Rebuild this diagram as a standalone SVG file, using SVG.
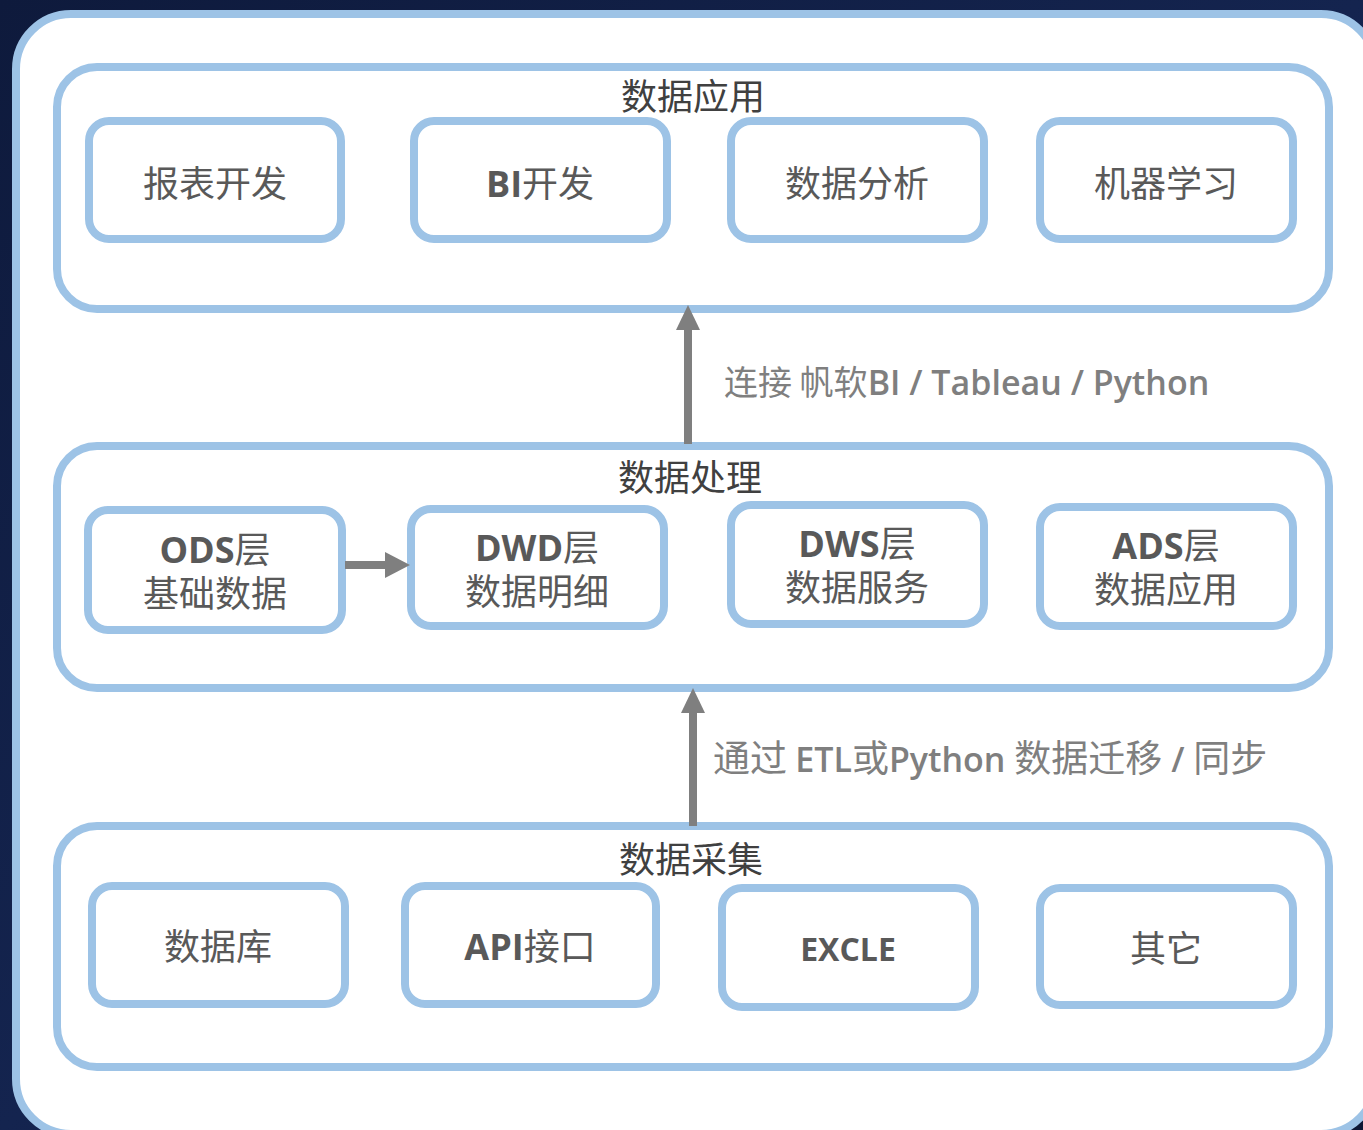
<svg xmlns="http://www.w3.org/2000/svg" width="1363" height="1130" viewBox="0 0 1363 1130">
<defs>
<linearGradient id="bg" x1="0" y1="0" x2="1" y2="1">
<stop offset="0" stop-color="#0e1a3c"/>
<stop offset="0.5" stop-color="#14244f"/>
<stop offset="1" stop-color="#0c1735"/>
</linearGradient>
<style>
.frame{fill:#ffffff;stroke:#9dc3e6;stroke-width:8}
.panel{fill:#ffffff;stroke:#9dc3e6;stroke-width:8}
.box{fill:#ffffff;stroke:#9dc3e6;stroke-width:8}
.title{font-family:"Noto Sans CJK SC","Noto Sans",sans-serif;font-size:36px;fill:#404040;text-anchor:middle}
.bt{font-family:"Open Sans","Noto Sans CJK SC",sans-serif;font-size:36px;fill:#595959;text-anchor:middle}
.cjk{font-family:"Noto Sans CJK SC",sans-serif;font-weight:400}
.lat{font-family:"Open Sans","Noto Sans CJK SC",sans-serif;font-weight:700}
.lbl{font-family:"Noto Sans CJK SC",sans-serif;font-size:34px;fill:#7f7f7f}
.lbl2{font-family:"Noto Sans CJK SC",sans-serif;font-size:37px;fill:#7f7f7f}
.lbll{font-family:"Open Sans",sans-serif;font-weight:600;font-size:34px}
.conn{stroke:#7f7f7f;stroke-width:8;fill:none}
.head{fill:#7f7f7f}
</style>
</defs>
<rect x="0" y="0" width="1363" height="1130" fill="url(#bg)"/>
<rect class="frame" x="16" y="14" width="1360" height="1120" rx="55"/>

<g id="panel-app">
<rect class="panel" x="57" y="67" width="1272" height="242" rx="40"/>
<text class="title" x="693" y="110">数据应用</text>
</g>
<g id="panel-proc">
<rect class="panel" x="57" y="446" width="1272" height="242" rx="40"/>
<text class="title" x="690" y="491">数据处理</text>
</g>
<g id="panel-collect">
<rect class="panel" x="57" y="826" width="1272" height="241" rx="40"/>
<text class="title" x="691" y="873">数据采集</text>
</g>

<g id="n-report"><rect class="box" x="89" y="121" width="252" height="118" rx="20"/><text class="bt" x="215" y="197"><tspan class="cjk">报表开发</tspan></text></g>
<g id="n-bi"><rect class="box" x="414" y="121" width="253" height="118" rx="20"/><text class="bt" x="540" y="197"><tspan class="lat">BI</tspan><tspan class="cjk">开发</tspan></text></g>
<g id="n-analysis"><rect class="box" x="731" y="121" width="253" height="118" rx="20"/><text class="bt" x="857" y="197"><tspan class="cjk">数据分析</tspan></text></g>
<g id="n-ml"><rect class="box" x="1040" y="121" width="253" height="118" rx="20"/><text class="bt" x="1166" y="197"><tspan class="cjk">机器学习</tspan></text></g>

<g id="n-ods"><rect class="box" x="88" y="510" width="254" height="120" rx="20"/><text class="bt" x="215" y="563"><tspan class="lat">ODS</tspan><tspan class="cjk">层</tspan></text><text class="bt" x="215" y="607"><tspan class="cjk">基础数据</tspan></text></g>
<g id="n-dwd"><rect class="box" x="411" y="509" width="253" height="117" rx="20"/><text class="bt" x="537" y="561"><tspan class="lat">DWD</tspan><tspan class="cjk">层</tspan></text><text class="bt" x="537" y="605"><tspan class="cjk">数据明细</tspan></text></g>
<g id="n-dws"><rect class="box" x="731" y="505" width="253" height="119" rx="20"/><text class="bt" x="857" y="557"><tspan class="lat">DWS</tspan><tspan class="cjk">层</tspan></text><text class="bt" x="857" y="601"><tspan class="cjk">数据服务</tspan></text></g>
<g id="n-ads"><rect class="box" x="1040" y="507" width="253" height="119" rx="20"/><text class="bt" x="1166" y="559"><tspan class="lat">ADS</tspan><tspan class="cjk">层</tspan></text><text class="bt" x="1166" y="603"><tspan class="cjk">数据应用</tspan></text></g>

<g id="n-db"><rect class="box" x="92" y="886" width="253" height="118" rx="20"/><text class="bt" x="218" y="960"><tspan class="cjk">数据库</tspan></text></g>
<g id="n-api"><rect class="box" x="405" y="886" width="251" height="118" rx="20"/><text class="bt" x="530" y="960"><tspan class="lat">API</tspan><tspan class="cjk">接口</tspan></text></g>
<g id="n-excle"><rect class="box" x="722" y="888" width="253" height="119" rx="20"/><text class="bt" x="848" y="961"><tspan class="lat" font-size="32">EXCLE</tspan></text></g>
<g id="n-other"><rect class="box" x="1040" y="888" width="253" height="117" rx="20"/><text class="bt" x="1166" y="962"><tspan class="cjk">其它</tspan></text></g>

<g id="connectors">
<line class="conn" x1="345" y1="565" x2="387" y2="565"/>
<polygon class="head" points="385,552 410,565 385,578"/>
<line class="conn" x1="688" y1="444" x2="688" y2="326"/>
<polygon class="head" points="676,330 688,305 700,330"/>
<line class="conn" x1="693" y1="826" x2="693" y2="710"/>
<polygon class="head" points="681,713 693,688 705,713"/>
<text class="lbl" x="724" y="395">连接 帆软<tspan class="lbll">BI / Tableau / Python</tspan></text>
<text class="lbl2" x="713" y="772">通过 <tspan class="lbll">ETL</tspan>或<tspan class="lbll">Python </tspan>数据迁移<tspan class="lbll"> / </tspan>同步</text>
</g>
</svg>
